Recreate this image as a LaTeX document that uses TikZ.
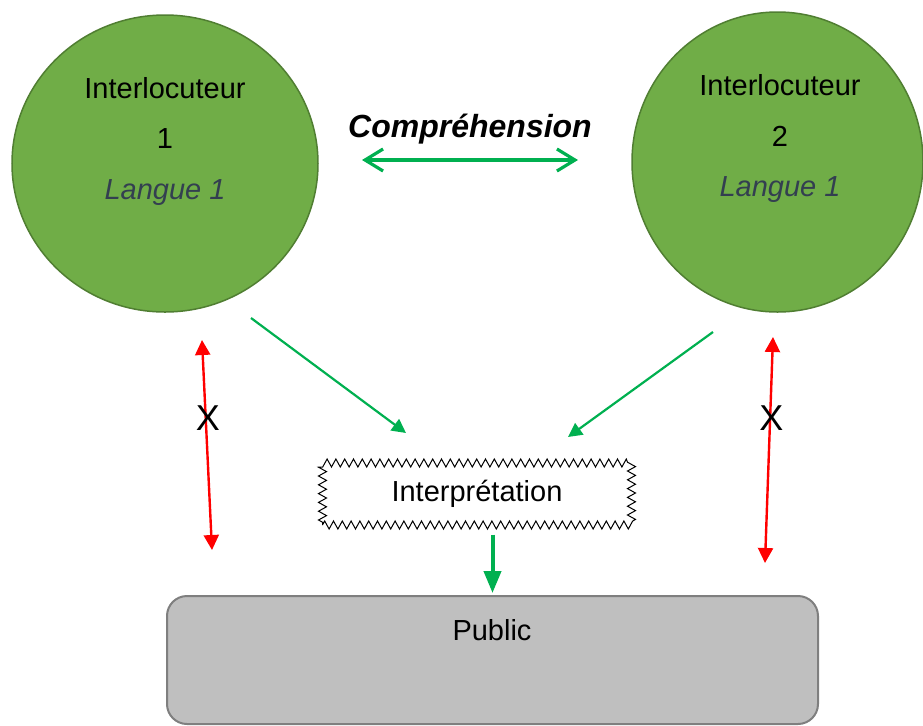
\documentclass[tikz,border=0pt]{standalone}
\usepackage{fontspec}
\setmainfont{Liberation Sans}
\usepackage{tikz}
\usetikzlibrary{calc, arrows.meta, shapes.geometric, decorations.pathmorphing}
\tikzset{>=latex}
\definecolor{mygreen1}{RGB}{112, 173, 71}
\definecolor{mygreen2}{RGB}{80, 126, 50}
\definecolor{mygreen3}{RGB}{0, 176, 80}
\definecolor{myslate}{RGB}{51, 63, 80}
\definecolor{mygray1}{RGB}{191, 191, 191}
\definecolor{mygray2}{RGB}{127, 127, 127}
\tikzset{
  interloc/.style = {ellipse, draw = mygreen2, fill = mygreen1, line width = 0.75pt, inner sep = 0pt},
  txt/.style = {anchor = base, font = \fontsize{14.5}{17}\selectfont},
  lang/.style = {anchor = base, font = \fontsize{14.5}{17}\selectfont\itshape, text = myslate},
  interp/.style = {draw, line width = 0.5pt, minimum width = 154.5pt, minimum height = 31pt,
    font = \fontsize{14.5}{17}\selectfont, decorate,
    decoration = {zigzag, segment length = 4.4pt, amplitude = 2pt}},
  public/.style = {rectangle, rounded corners = 10pt, draw = mygray2, fill = mygray1,
    line width = 1pt, minimum width = 325.5pt, minimum height = 64pt},
  redarr/.style = {red, line width = 1.2pt,
    {Triangle[length = 7.5pt, width = 7.5pt]}-{Triangle[length = 7.5pt, width = 7.5pt]}},
  greenarr/.style = {mygreen3, line width = 1.1pt, -{Triangle[length = 7pt, width = 7pt]}},
  downarr/.style = {mygreen3, line width = 2pt, -{Triangle[length = 11pt, width = 8.5pt]}}
}

\begin{document}
\begin{tikzpicture}[x = 0.5pt, y = -0.5pt]
\useasboundingbox (0, 0) rectangle (923, 725);

% Draw the two speakers
\node[interloc, minimum width = 153pt, minimum height = 148.5pt] (int1) at (165, 163.5) {};
\node[interloc, minimum width = 145.5pt, minimum height = 150pt] (int2) at (777.5, 162) {};

\node[txt] (nom1) at (165, 98) {Interlocuteur};
\node[txt] (num1) at (165, 148) {1};
\node[lang] (lang1) at (165, 199) {Langue 1};

\node[txt] (nom2) at (780, 95) {Interlocuteur};
\node[txt] (num2) at (780, 146) {2};
\node[lang] (lang2) at (780, 196) {Langue 1};



% Comprehension between the speakers
\node[anchor = base, font = \fontsize{16}{19}\selectfont\bfseries\itshape] (compr) at (470, 137) {Compréhension};
\coordinate (cL) at (362, 160);
\coordinate (cR) at (578, 160);
\draw[mygreen3, line width = 1.6pt,
  {Straight Barb[length = 9pt, width = 11pt]}-{Straight Barb[length = 9pt, width = 11pt]}] (cL) -- (cR);



% Interpretation and public
\node[interp] (interp) at (477, 494) {Interprétation};
\node[public] (public) at (492.5, 660) {};
\node[txt] (pubtxt) at (492, 640) {Public};

\coordinate (g1a) at (251, 318);
\coordinate (g1b) at (406, 433);
\coordinate (g2a) at (713, 332);
\coordinate (g2b) at (568, 437);
\draw[greenarr] (g1a) -- (g1b);
\draw[greenarr] (g2a) -- (g2b);
\draw[downarr] ($(public.north |- interp.south) + (0, 9)$) -- ([yshift = 1pt]public.north);



% No direct link (red arrows)
\coordinate (r1a) at (202, 340);
\coordinate (r1b) at (212, 550);
\coordinate (r2a) at (773, 337);
\coordinate (r2b) at (765, 563);
\draw[redarr] (r1a) -- (r1b);
\draw[redarr] (r2a) -- (r2b);
\node[font = \fontsize{18}{21}\selectfont] (x1) at (208, 418.5) {X};
\node[font = \fontsize{18}{21}\selectfont] (x2) at (771.5, 418.5) {X};
\end{tikzpicture}
\end{document}
